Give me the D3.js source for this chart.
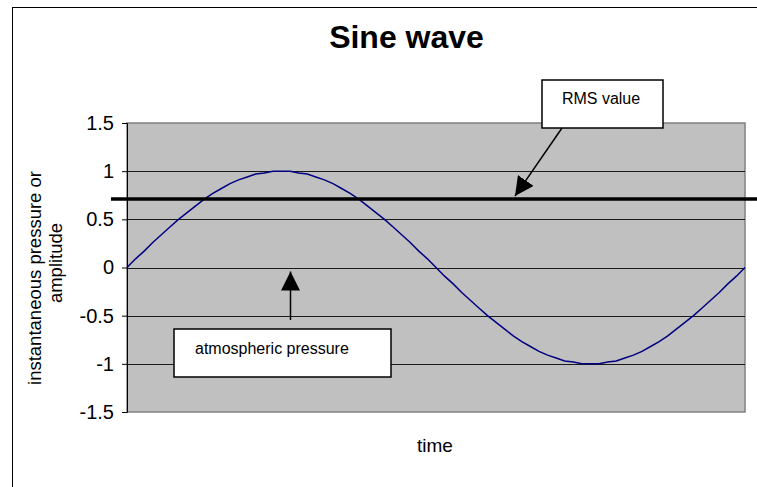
<!DOCTYPE html>
<html><head><meta charset="utf-8">
<script src="https://cdn.jsdelivr.net/npm/d3@7"></script>
<style>body{margin:0;background:#fff}svg{display:block;font-family:"Liberation Sans",Arial,sans-serif}</style>
</head><body>
<svg id="c" width="757" height="487"></svg>
<script>
const title = "Sine wave";
const xLabel = "time";
const yLabelLines = ["instantaneous pressure or", "amplitude"];
const yTicks = [-1.5, -1, -0.5, 0, 0.5, 1, 1.5];
// amplitude samples (every 5 degrees of one period)
const amplitude = [0,0.09,0.17,0.26,0.34,0.42,0.5,0.57,0.64,0.71,0.77,0.82,0.87,0.91,0.94,0.97,0.98,1.00,1,
  1.00,0.98,0.97,0.94,0.91,0.87,0.82,0.77,0.71,0.64,0.57,0.5,0.42,0.34,0.26,0.17,0.09,0,
  -0.09,-0.17,-0.26,-0.34,-0.42,-0.5,-0.57,-0.64,-0.71,-0.77,-0.82,-0.87,-0.91,-0.94,-0.97,-0.98,-1.00,-1,
  -1.00,-0.98,-0.97,-0.94,-0.91,-0.87,-0.82,-0.77,-0.71,-0.64,-0.57,-0.5,-0.42,-0.34,-0.26,-0.17,-0.09,0];
const rmsValue = 0.71;
const rmsLabel = "RMS value";
const atmLabel = "atmospheric pressure";

const svg = d3.select("#c");
// outer chart border
svg.append("rect").attr("x",12.5).attr("y",7.5).attr("width",760).attr("height",500)
  .attr("fill","#fff").attr("stroke","#000").attr("stroke-width",1);

const L=127, R=745, T=123, B=412;
const x = d3.scaleLinear().domain([0, amplitude.length-1]).range([L,R]);
const y = d3.scaleLinear().domain([-1.5,1.5]).range([B,T]);

// plot area
svg.append("rect").attr("x",L).attr("y",T).attr("width",R-L).attr("height",B-T)
  .attr("fill","#c0c0c0").attr("stroke","#808080").attr("stroke-width",1.5);

// gridlines
svg.append("g").selectAll("line").data(yTicks.filter(d=>d>-1.5 && d<1.5)).join("line")
  .attr("x1",L).attr("x2",R).attr("y1",d=>Math.round(y(d))+0.5).attr("y2",d=>Math.round(y(d))+0.5)
  .attr("stroke","#1a1a1a").attr("stroke-width",1);

// y axis
const yAxis = d3.axisLeft(y).tickValues(yTicks).tickSize(5).tickPadding(8).tickFormat(d=>String(d));
const ga = svg.append("g").attr("transform",`translate(${L},0)`).call(yAxis);
ga.select(".domain").attr("stroke","#000");
ga.selectAll(".tick line").attr("stroke","#000");
ga.selectAll(".tick text").attr("font-size",20).attr("fill","#000").attr("font-family","Liberation Sans, Arial, sans-serif");

// sine line
svg.append("path").datum(amplitude)
  .attr("d", d3.line().x((d,i)=>x(i)).y(d=>y(d)))
  .attr("fill","none").attr("stroke","#000080").attr("stroke-width",1.5);

// RMS line
svg.append("line").attr("x1",111).attr("x2",757).attr("y1",y(rmsValue)).attr("y2",y(rmsValue))
  .attr("stroke","#000").attr("stroke-width",3.5);

// arrow marker
const defs = svg.append("defs");
defs.append("marker").attr("id","ah").attr("viewBox","0 0 10 10").attr("refX",10).attr("refY",5)
  .attr("markerWidth",19).attr("markerHeight",19).attr("markerUnits","userSpaceOnUse").attr("orient","auto")
  .append("path").attr("d","M0,0 L10,5 L0,10 Z").attr("fill","#000");

// RMS callout
svg.append("line").attr("x1",562).attr("y1",128).attr("x2",515).attr("y2",y(rmsValue)-3)
  .attr("stroke","#000").attr("stroke-width",1.5).attr("marker-end","url(#ah)");
svg.append("rect").attr("x",542).attr("y",80).attr("width",121).attr("height",48)
  .attr("fill","#fff").attr("stroke","#000").attr("stroke-width",1.5);
svg.append("text").attr("x",601).attr("y",104).attr("text-anchor","middle").attr("font-size",16).text(rmsLabel);

// atmospheric callout
svg.append("line").attr("x1",290.5).attr("y1",320).attr("x2",290.5).attr("y2",y(0)+4)
  .attr("stroke","#000").attr("stroke-width",1.5).attr("marker-end","url(#ah)");
svg.append("rect").attr("x",174).attr("y",329).attr("width",217).attr("height",48)
  .attr("fill","#fff").attr("stroke","#000").attr("stroke-width",1.5);
svg.append("text").attr("x",195).attr("y",354).attr("font-size",16).text(atmLabel);

// title
svg.append("text").attr("x",406.5).attr("y",48).attr("text-anchor","middle")
  .attr("font-size",32).attr("font-weight","bold").text(title);
// x label
svg.append("text").attr("x",435).attr("y",452).attr("text-anchor","middle").attr("font-size",19).text(xLabel);
// y label (two lines)
const yLabelPos = [[41,278],[62,263]];
yLabelLines.forEach((t,i)=>{
  svg.append("text").attr("transform",`translate(${yLabelPos[i][0]},${yLabelPos[i][1]}) rotate(-90)`)
    .attr("text-anchor","middle").attr("font-size",18.5).text(t);
});
</script>
</body></html>
